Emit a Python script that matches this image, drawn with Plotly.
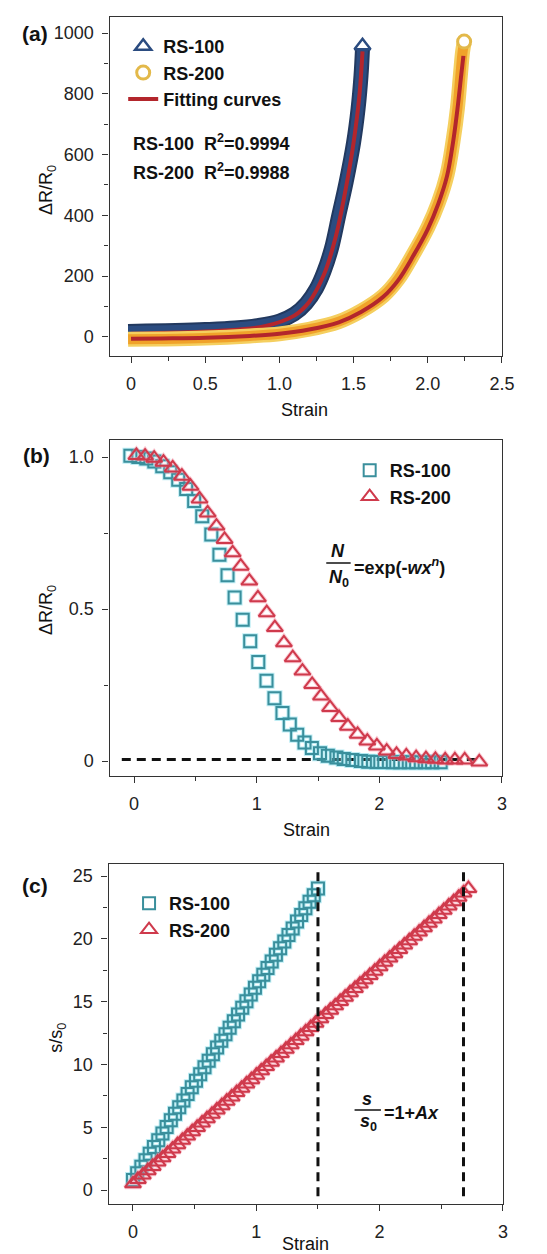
import plotly.graph_objects as go

W, H = 547, 1254
FONT = "Liberation Sans, Arial, sans-serif"

# ---------------- Panel (a) data ----------------
a_rs100_x = [-0.02, 0.1, 0.3, 0.5, 0.7, 0.85, 1.0, 1.1, 1.18, 1.25, 1.3, 1.35, 1.4, 1.45, 1.5, 1.53, 1.55, 1.56]
a_rs100_y = [18, 19, 21, 24, 29, 37, 52, 75, 110, 160, 215, 290, 400, 510, 640, 750, 860, 950]
a_rs100_end = (1.56, 958)
a_fit100_x = [0.0, 0.3, 0.6, 0.9, 1.1, 1.2, 1.3, 1.38, 1.45, 1.5, 1.54, 1.56]
a_fit100_y = [10, 14, 20, 35, 70, 115, 205, 330, 495, 640, 800, 940]

a_rs200_x = [-0.02, 0.2, 0.5, 0.8, 1.0, 1.2, 1.4, 1.55, 1.7, 1.8, 1.9, 2.0, 2.07, 2.13, 2.17, 2.2, 2.22, 2.235, 2.245]
a_rs200_y = [-8, -7, -4, 3, 10, 25, 50, 85, 135, 190, 270, 360, 440, 534, 644, 754, 863, 940, 968]
a_rs200_end = (2.245, 972)
a_fit200_x = [0.0, 0.2, 0.5, 0.8, 1.0, 1.2, 1.4, 1.55, 1.7, 1.8, 1.9, 2.0, 2.07, 2.13, 2.17, 2.2, 2.225, 2.24]
a_fit200_y = [-6, -5, -3, 3, 10, 24, 48, 82, 132, 186, 265, 355, 437, 530, 640, 750, 860, 925]

# ---------------- Panel (b) data ----------------
b_rs100_x = [-0.03, 0.035, 0.10, 0.165, 0.23, 0.295, 0.36, 0.425, 0.49, 0.556, 0.63, 0.696, 0.762, 0.82,
             0.886, 0.947, 1.013, 1.08, 1.145, 1.21, 1.27, 1.33, 1.39, 1.45, 1.516, 1.58, 1.65, 1.71,
             1.78, 1.85, 1.91, 1.98, 2.04, 2.11, 2.17, 2.24, 2.30, 2.37, 2.43, 2.50]
b_rs100_y = [1.004, 1.0, 0.995, 0.985, 0.97, 0.95, 0.925, 0.895, 0.855, 0.805, 0.745, 0.679, 0.611, 0.538,
             0.465, 0.394, 0.326, 0.264, 0.207, 0.158, 0.12, 0.087, 0.061, 0.043, 0.026, 0.018, 0.012, 0.007,
             0.004, 0.0, -0.002, -0.003, -0.003, -0.004, -0.004, -0.004, -0.004, -0.004, -0.004, -0.004]
b_rs200_x = [0.019, 0.09, 0.164, 0.24, 0.315, 0.39, 0.46, 0.534, 0.60, 0.672, 0.738, 0.804, 0.87, 0.94,
             1.01, 1.082, 1.148, 1.222, 1.294, 1.373, 1.452, 1.524, 1.598, 1.672, 1.743, 1.823, 1.902,
             1.98, 2.06, 2.14, 2.22, 2.30, 2.38, 2.457, 2.537, 2.616, 2.696, 2.815]
b_rs200_y = [1.005, 1.003, 0.996, 0.983, 0.964, 0.937, 0.904, 0.862, 0.816, 0.773, 0.729, 0.685, 0.641, 0.592,
             0.537, 0.488, 0.439, 0.389, 0.340, 0.296, 0.252, 0.214, 0.176, 0.143, 0.115, 0.088, 0.066,
             0.050, 0.033, 0.022, 0.017, 0.011, 0.008, 0.006, 0.004, 0.004, 0.004, -0.003]
b_base_x = [-0.1, 2.8]
b_base_y = [0.005, 0.005]

# ---------------- Panel (c) data ----------------
c_rs100_x = [0.000, 0.034, 0.068, 0.102, 0.136, 0.170, 0.205, 0.239, 0.273, 0.307, 0.341, 0.375, 0.409,
             0.443, 0.477, 0.511, 0.545, 0.580, 0.614, 0.648, 0.682, 0.716, 0.750, 0.784, 0.818, 0.852,
             0.886, 0.920, 0.955, 0.989, 1.023, 1.057, 1.091, 1.125, 1.159, 1.193, 1.227, 1.261, 1.295,
             1.330, 1.364, 1.398, 1.432, 1.466, 1.500]
c_rs100_y = [0.80, 1.33, 1.85, 2.38, 2.90, 3.43, 3.97, 4.50, 5.02, 5.55, 6.08, 6.60, 7.13,
             7.65, 8.18, 8.71, 9.23, 9.77, 10.30, 10.82, 11.35, 11.88, 12.40, 12.93, 13.45, 13.98,
             14.51, 15.03, 15.57, 16.10, 16.63, 17.15, 17.68, 18.20, 18.73, 19.26, 19.78, 20.31, 20.83,
             21.38, 21.90, 22.43, 22.95, 23.48, 24.00]
c_rs200_x = [0.00, 0.04, 0.08, 0.12, 0.16, 0.20, 0.24, 0.28, 0.32, 0.36, 0.40, 0.44, 0.48, 0.52, 0.56,
             0.60, 0.64, 0.68, 0.72, 0.76, 0.80, 0.84, 0.88, 0.92, 0.96, 1.00, 1.04, 1.08, 1.12, 1.16,
             1.20, 1.24, 1.28, 1.32, 1.36, 1.40, 1.44, 1.48, 1.52, 1.56, 1.60, 1.64, 1.68, 1.72, 1.76,
             1.80, 1.84, 1.88, 1.92, 1.96, 2.00, 2.04, 2.08, 2.12, 2.16, 2.20, 2.24, 2.28, 2.32, 2.36,
             2.40, 2.44, 2.48, 2.52, 2.56, 2.60, 2.64, 2.68, 2.72]
c_rs200_y = [0.50, 0.85, 1.19, 1.54, 1.88, 2.23, 2.57, 2.92, 3.26, 3.61, 3.96, 4.30, 4.65, 4.99, 5.34,
             5.68, 6.03, 6.38, 6.72, 7.07, 7.41, 7.76, 8.10, 8.45, 8.79, 9.14, 9.49, 9.83, 10.18, 10.52,
             10.87, 11.21, 11.56, 11.90, 12.25, 12.60, 12.94, 13.29, 13.63, 13.98, 14.32, 14.67, 15.02,
             15.36, 15.71, 16.05, 16.40, 16.74, 17.09, 17.43, 17.78, 18.13, 18.47, 18.82, 19.16, 19.51,
             19.85, 20.20, 20.54, 20.89, 21.24, 21.58, 21.93, 22.27, 22.62, 22.96, 23.31, 23.66, 24.00]
c_vline1_x = [1.5, 1.5]
c_vline2_x = [2.68, 2.68]
c_vline_y = [-0.5, 25.3]

# tick labels
a_xticks = [0, 0.5, 1.0, 1.5, 2.0, 2.5]
a_xticktext = ["0", "0.5", "1.0", "1.5", "2.0", "2.5"]
a_yticks = [0, 200, 400, 600, 800, 1000]
b_xticks = [0, 1, 2, 3]
b_yticks = [0, 0.5, 1.0]
b_yticktext = ["0", "0.5", "1.0"]
c_xticks = [0, 1, 2, 3]
c_yticks = [0, 5, 10, 15, 20, 25]

NAVY = "#2b4c80"
NAVY_EDGE = "#22395f"
ORANGE = "#f0a22a"
YELLOW = "#f5cf5f"
FITRED = "#b3262c"
TEAL = "#3a8f9c"
TEAL_GLOW = "rgba(110,215,230,0.45)"
RED = "#cf3a4c"
RED_GLOW = "rgba(245,140,160,0.45)"


def px(x):
    return x / W


def py(y):
    return 1 - y / H


fig = go.Figure()

# ---- panel (a) ----
fig.add_trace(go.Scatter(x=a_rs100_x, y=a_rs100_y, mode="lines", xaxis="x", yaxis="y",
                         line=dict(color=NAVY_EDGE, width=15, shape="spline"), showlegend=False, hoverinfo="skip"))
fig.add_trace(go.Scatter(x=a_rs100_x, y=a_rs100_y, mode="lines", xaxis="x", yaxis="y",
                         line=dict(color=NAVY, width=11, shape="spline"), showlegend=False, hoverinfo="skip"))
fig.add_trace(go.Scatter(x=[a_rs100_end[0]], y=[a_rs100_end[1]], mode="markers", xaxis="x", yaxis="y",
                         name="RS-100", legend="legend", legendrank=1,
                         marker=dict(symbol="triangle-up", size=14, color="white",
                                     line=dict(color=NAVY, width=2.5))))
fig.add_trace(go.Scatter(x=a_fit100_x, y=a_fit100_y, mode="lines", xaxis="x", yaxis="y",
                         name="Fitting curves", legend="legend", legendrank=3,
                         line=dict(color=FITRED, width=4, shape="spline")))
fig.add_trace(go.Scatter(x=a_rs200_x, y=a_rs200_y, mode="lines", xaxis="x", yaxis="y",
                         line=dict(color=YELLOW, width=15, shape="spline"), showlegend=False, hoverinfo="skip"))
fig.add_trace(go.Scatter(x=a_rs200_x, y=a_rs200_y, mode="lines", xaxis="x", yaxis="y",
                         line=dict(color=ORANGE, width=10, shape="spline"), showlegend=False, hoverinfo="skip"))
fig.add_trace(go.Scatter(x=[a_rs200_end[0]], y=[a_rs200_end[1]], mode="markers", xaxis="x", yaxis="y",
                         name="RS-200", legend="legend", legendrank=2,
                         marker=dict(symbol="circle", size=13, color="white",
                                     line=dict(color="#e3b94a", width=3))))
fig.add_trace(go.Scatter(x=a_fit200_x, y=a_fit200_y, mode="lines", xaxis="x", yaxis="y",
                         showlegend=False, line=dict(color=FITRED, width=4, shape="spline")))

# ---- panel (b) ----
fig.add_trace(go.Scatter(x=b_base_x, y=b_base_y, mode="lines", xaxis="x2", yaxis="y2", showlegend=False,
                         line=dict(color="#111111", width=3, dash="9px,6px")))
fig.add_trace(go.Scatter(x=b_rs100_x, y=b_rs100_y, mode="markers", xaxis="x2", yaxis="y2", showlegend=False,
                         marker=dict(symbol="square-open", size=12, color=TEAL_GLOW, line=dict(width=4))))
fig.add_trace(go.Scatter(x=b_rs100_x, y=b_rs100_y, mode="markers", xaxis="x2", yaxis="y2",
                         name="RS-100", legend="legend2",
                         marker=dict(symbol="square-open", size=12, color=TEAL, line=dict(width=2))))
fig.add_trace(go.Scatter(x=b_rs200_x, y=b_rs200_y, mode="markers", xaxis="x2", yaxis="y2", showlegend=False,
                         marker=dict(symbol="triangle-up-open", size=14, color=RED_GLOW, line=dict(width=4))))
fig.add_trace(go.Scatter(x=b_rs200_x, y=b_rs200_y, mode="markers", xaxis="x2", yaxis="y2",
                         name="RS-200", legend="legend2",
                         marker=dict(symbol="triangle-up-open", size=14, color=RED, line=dict(width=2))))

# ---- panel (c) ----
fig.add_trace(go.Scatter(x=c_rs100_x, y=c_rs100_y, mode="markers", xaxis="x3", yaxis="y3", showlegend=False,
                         marker=dict(symbol="square-open", size=12, color=TEAL_GLOW, line=dict(width=4))))
fig.add_trace(go.Scatter(x=c_rs100_x, y=c_rs100_y, mode="markers", xaxis="x3", yaxis="y3",
                         name="RS-100", legend="legend3",
                         marker=dict(symbol="square-open", size=12, color=TEAL, line=dict(width=2))))
fig.add_trace(go.Scatter(x=c_rs200_x, y=c_rs200_y, mode="markers", xaxis="x3", yaxis="y3", showlegend=False,
                         marker=dict(symbol="triangle-up-open", size=14, color=RED_GLOW, line=dict(width=4))))
fig.add_trace(go.Scatter(x=c_rs200_x, y=c_rs200_y, mode="markers", xaxis="x3", yaxis="y3",
                         name="RS-200", legend="legend3",
                         marker=dict(symbol="triangle-up-open", size=14, color=RED, line=dict(width=2))))
for vx in (c_vline1_x, c_vline2_x):
    fig.add_trace(go.Scatter(x=vx, y=c_vline_y, mode="lines", xaxis="x3", yaxis="y3", showlegend=False,
                             line=dict(color="#111111", width=3, dash="9px,6px")))

axis_style = dict(showline=True, linecolor="#333333", linewidth=1.3, mirror=True,
                  ticks="outside", ticklen=6, tickwidth=1.3, tickcolor="#333333",
                  showgrid=False, zeroline=False, ticklabelstandoff=5,
                  tickfont=dict(family=FONT, size=18, color="#222222"))


def minor(d):
    return dict(ticks="outside", ticklen=4, tickwidth=1.2, tickcolor="#333333", dtick=d, tick0=0, showgrid=False)


fig.update_layout(
    width=W, height=H, margin=dict(l=0, r=0, t=0, b=0),
    paper_bgcolor="white", plot_bgcolor="white",
    font=dict(family=FONT, size=18, color="#111111"),
    xaxis=dict(domain=[px(104), px(506)], range=[-0.145, 2.5], anchor="y",
               tickvals=a_xticks, ticktext=a_xticktext, minor=minor(0.25), **axis_style),
    yaxis=dict(domain=[py(348), py(9)], range=[-63, 1053], anchor="x",
               tickvals=a_yticks, minor=minor(100), **axis_style),
    xaxis2=dict(domain=[px(104), px(506)], range=[-0.2, 3], anchor="y2",
                tickvals=b_xticks, minor=minor(0.5), **axis_style),
    yaxis2=dict(domain=[py(768), py(432)], range=[-0.049, 1.056], anchor="x2",
                tickvals=b_yticks, ticktext=b_yticktext, minor=minor(0.25), **axis_style),
    xaxis3=dict(domain=[px(103), px(507)], range=[-0.198, 3], anchor="y3",
                tickvals=c_xticks, minor=minor(0.5), **axis_style),
    yaxis3=dict(domain=[py(1196), py(856)], range=[-1.11, 25.96], anchor="x3",
                tickvals=c_yticks, minor=minor(2.5), **axis_style),
    legend=dict(x=px(118), y=py(20), xanchor="left", yanchor="top", bgcolor="rgba(0,0,0,0)",
                font=dict(family=FONT, size=18, weight="bold", color="#111111"), traceorder="normal"),
    legend2=dict(x=px(350), y=py(444), xanchor="left", yanchor="top", bgcolor="rgba(0,0,0,0)",
                 font=dict(family=FONT, size=18, weight="bold", color="#111111")),
    legend3=dict(x=px(124), y=py(877), xanchor="left", yanchor="top", bgcolor="rgba(0,0,0,0)",
                 font=dict(family=FONT, size=18, weight="bold", color="#111111")),
    showlegend=True,
)

ann = []


def add_text(text, x, y, size=18, xanchor="center", angle=0):
    ann.append(dict(text=text, x=px(x), y=py(y), xref="paper", yref="paper", showarrow=False,
                    xanchor=xanchor, yanchor="middle", textangle=angle,
                    font=dict(family=FONT, size=size, color="#111111")))


# panel labels
add_text("<b>(a)</b>", 28, 25, size=21)
add_text("<b>(b)</b>", 29, 448, size=21)
add_text("<b>(c)</b>", 28, 877, size=21)
# axis titles
add_text("Strain", 304, 402)
add_text("Strain", 306, 822)
add_text("Strain", 305, 1236)
add_text("ΔR/R<sub>0</sub>", 40, 182, angle=-90)
add_text("ΔR/R<sub>0</sub>", 40, 602, angle=-90)
add_text("s/s<sub>0</sub>", 50, 1030, angle=-90)
# R^2 text
add_text("<b>RS-100\u00a0\u00a0R<sup>2</sup>=0.9994</b>", 126, 135, xanchor="left")
add_text("<b>RS-200\u00a0\u00a0R<sup>2</sup>=0.9988</b>", 126, 164, xanchor="left")
# formula (b)
add_text("<b><i>N</i></b>", 338, 543)
add_text("<b><i>N</i><sub>0</sub></b>", 339, 570)
add_text("<b>=exp(-<i>wx</i><sup><i>n</i></sup>)</b>", 352, 558, xanchor="left")
# formula (c)
add_text("<b><i>s</i></b>", 368, 1091)
add_text("<b><i>s</i><sub>0</sub></b>", 369, 1114)
add_text("<b>=1+<i>Ax</i></b>", 383, 1105, xanchor="left")

fig.update_layout(annotations=ann)
fig.update_layout(shapes=[
    dict(type="line", xref="paper", yref="paper", x0=px(326), x1=px(351), y0=py(555), y1=py(555),
         line=dict(color="#111111", width=1.5)),
    dict(type="line", xref="paper", yref="paper", x0=px(355), x1=px(382), y0=py(1102), y1=py(1102),
         line=dict(color="#111111", width=1.5)),
])

fig.write_html("out.html")
